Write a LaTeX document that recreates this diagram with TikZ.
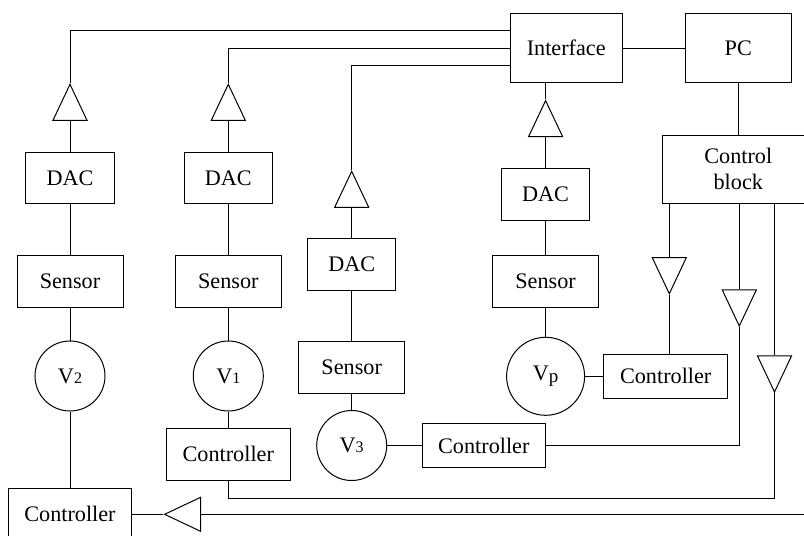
\documentclass[tikz,border=0pt]{standalone}
\usepackage{fontspec}
\setmainfont{Liberation Serif}
\usepackage{tikz}
\usetikzlibrary{shapes,calc}

\begin{document}
\begin{tikzpicture}[
      x=0.5pt, y=-0.5pt, line width=0.5pt,
      every node/.style={font=\fontsize{11.1}{13}\selectfont},
      box/.style={draw,inner sep=0pt},
      dacbox/.style={box,minimum width=44.2pt,minimum height=25.9pt},
      sensorbox/.style={box,minimum width=53pt,minimum height=25.8pt},
      ctrlbox/.style={box,minimum width=61.8pt,minimum height=22pt},
      valve/.style={draw,circle,inner sep=0pt,minimum size=35pt},
      amp/.style={draw,isosceles triangle,isosceles triangle stretches,
        minimum width=17pt,minimum height=18pt,inner sep=0pt,anchor=apex},
      ampup/.style={amp,rotate=90},
      ampdown/.style={amp,rotate=-90},
      ampleft/.style={amp,rotate=180}
      ]

      % the picture is cut at the right and bottom edges
      \path[use as bounding box] (0,0) rectangle (804,536);
      \clip (0,0) rectangle (804,536);

      \path node[box,minimum width=56.2pt,minimum height=34.5pt] (iface) at (566.2,48.2) {Interface};
      \path node[box,minimum width=53.3pt,minimum height=34.5pt] (pc) at (738.3,48.2) {PC};
      \path node[box,minimum width=76pt,minimum height=34.2pt,align=center] (cblock) at (738.3,169.2) {Control\\block};
      \path[draw] (iface) -- (pc);
      \path[draw] (pc) -- (cblock);

      \path node[ampup] (amp-v2) at (70,83) {};
      \path node[dacbox] (dac-v2) at (70,178) {DAC};
      \path node[sensorbox] (sensor-v2) at (70,281.5) {Sensor};
      \path node[valve] (v2) at (70,376) {V{\fontsize{8}{8}\selectfont 2}};
      \path node[ctrlbox,minimum height=26pt] (ctrl-v2) at (70,514.3) {Controller};
      \path[draw] (amp-v2.lower side) -- (dac-v2);
      \path[draw] (dac-v2) -- (sensor-v2);
      \path[draw] (sensor-v2) -- (v2);
      \path[draw] (v2) -- (ctrl-v2);

      \path node[ampup] (amp-v1) at (228.3,83) {};
      \path node[dacbox] (dac-v1) at (228.3,178) {DAC};
      \path node[sensorbox] (sensor-v1) at (228.3,281.5) {Sensor};
      \path node[valve] (v1) at (228.3,376) {V{\fontsize{8}{8}\selectfont 1}};
      \path node[ctrlbox,minimum height=25.9pt] (ctrl-v1) at (228.3,454.2) {Controller};
      \path[draw] (amp-v1.lower side) -- (dac-v1);
      \path[draw] (dac-v1) -- (sensor-v1);
      \path[draw] (sensor-v1) -- (v1);
      \path[draw] (v1) -- (ctrl-v1);

      \path node[ampup] (amp-v3) at (351.7,170) {};
      \path node[dacbox] (dac-v3) at (351.7,264.3) {DAC};
      \path node[sensorbox] (sensor-v3) at (351.7,367.5) {Sensor};
      \path node[valve] (v3) at (351.7,445.5) {V{\fontsize{8}{8}\selectfont 3}};
      \path node[ctrlbox] (ctrl-v3) at (483.8,445.5) {Controller};
      \path[draw] (amp-v3.lower side) -- (dac-v3);
      \path[draw] (dac-v3) -- (sensor-v3);
      \path[draw] (sensor-v3) -- (v3);
      \path[draw] (v3) -- (ctrl-v3);

      \path node[ampup] (amp-vp) at (545.6,99.3) {};
      \path node[dacbox] (dac-vp) at (545.6,194.3) {DAC};
      \path node[sensorbox] (sensor-vp) at (545.6,281.5) {Sensor};
      \path node[valve,minimum size=39pt] (vp) at (545.6,376.3) {V\raisebox{-1pt}{\fontsize{9.5}{9.5}\selectfont p}};
      \path node[ctrlbox,minimum width=62pt,minimum height=22.2pt] (ctrl-vp) at (665.7,376.3) {Controller};
      \path[draw] (amp-vp.apex) -- (amp-vp.apex |- iface.south);
      \path[draw] (amp-vp.lower side) -- (dac-vp);
      \path[draw] (dac-vp) -- (sensor-vp);
      \path[draw] (sensor-vp) -- (vp);
      \path[draw] (vp) -- (ctrl-vp);

      \path[draw] (amp-v2.apex) |- ($(iface.west)+(0,-17.3)$);
      \path[draw] (amp-v1.apex) |- (iface.west);
      \path[draw] (amp-v3.apex) |- ($(iface.west)+(0,17.5)$);

      \path node[ampdown] (amp-c1) at (669.3,295) {};
      \path node[ampdown] (amp-c2) at (739.3,327.3) {};
      \path node[ampdown] (amp-c3) at (774.5,393.3) {};
      \path node[ampleft] (amp-c4) at (163.3,514.3) {};
      \coordinate (offpage) at (830,514.3);

      \path[draw] (amp-c1.lower side) -- (amp-c1.lower side |- cblock.south);
      \path[draw] (amp-c2.lower side) -- (amp-c2.lower side |- cblock.south);
      \path[draw] (amp-c3.lower side) -- (amp-c3.lower side |- cblock.south);
      \path[draw] (amp-c1.apex) -- (amp-c1.apex |- ctrl-vp.north);
      \path[draw] (amp-c2.apex) |- (ctrl-v3.east);
      \path[draw] (ctrl-v1.south) -- ++(0,17.5) -| (amp-c3.apex);
      \path[draw] (ctrl-v2) -- (amp-c4.apex);
      \path[draw] (amp-c4.lower side) -- (offpage);
    \end{tikzpicture}
\end{document}
